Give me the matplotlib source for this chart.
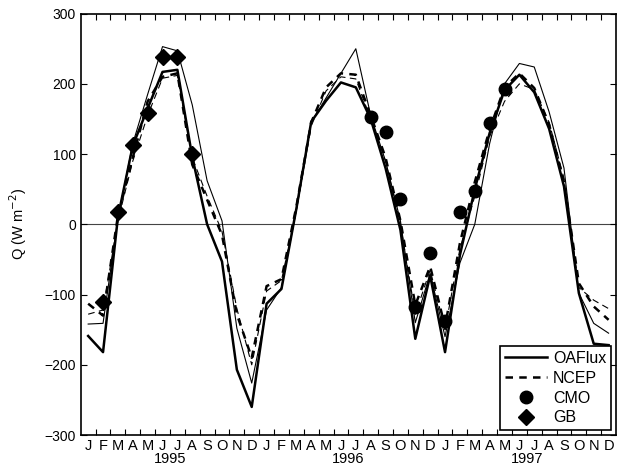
import matplotlib
matplotlib.use('Agg')
import matplotlib.pyplot as plt
import numpy as np

plt.rcParams['font.family'] = ['Liberation Sans', 'DejaVu Sans']

months = list('JFMAMJJASOND') * 3
years = ['1995', '1996', '1997']

# monthly net heat flux, Jan 1995 - Dec 1997
oaflux = [-159, -182, 10, 112, 165, 217, 220, 96, 0, -53, -207, -260,
          -113, -92, 22, 146, 176, 202, 195, 150, 80, -8, -163, -73,
          -182, -44, 50, 130, 191, 213, 188, 136, 54, -98, -170, -172]
ncep = [-113, -130, 12, 95, 175, 210, 215, 85, 35, -15, -128, -190,
        -88, -78, 25, 145, 195, 215, 213, 155, 95, 5, -115, -60,
        -146, -27, 60, 135, 195, 215, 194, 142, 60, -84, -117, -136]
thin_solid = [-142, -141, 8, 115, 185, 253, 247, 170, 62, 5, -148, -226,
              -122, -90, 20, 145, 180, 215, 250, 155, 90, 5, -140, -70,
              -160, -55, 0, 115, 200, 229, 224, 160, 80, -98, -141, -155]
thin_dash = [-128, -122, 5, 90, 155, 208, 212, 95, 40, -10, -120, -200,
             -95, -80, 20, 140, 190, 210, 207, 150, 90, 0, -128, -65,
             -150, -35, 40, 125, 175, 200, 192, 145, 65, -90, -108, -120]

cmo_idx = [19, 20, 21, 22, 23, 24, 25, 26, 27, 28]
cmo = [153, 132, 36, -118, -41, -137, 17, 48, 144, 193]
gb_idx = [1, 2, 3, 4, 5, 6, 7]
gb = [-110, 17, 113, 158, 238, 238, 100]

x = np.arange(36) + 0.5

fig = plt.figure(figsize=(6.21, 4.76), dpi=100)
ax = fig.add_axes([0.13, 0.0861, 0.862, 0.8853])

ax.axhline(0, color='#444444', lw=0.8, zorder=1)
ax.plot(x, thin_solid, color='black', lw=0.8, zorder=2)
ax.plot(x, thin_dash, color='black', lw=0.8, ls=(0, (6, 4)), zorder=2)
ax.plot(x, oaflux, color='black', lw=1.8, label='OAFlux', zorder=3)
ax.plot(x, ncep, color='black', lw=1.8, ls=(0, (3, 2.5)), label='NCEP', zorder=3)
ax.plot(x[cmo_idx], cmo, 'o', color='black', ms=9, label='CMO', zorder=4)
ax.plot(x[gb_idx], gb, 'D', color='black', ms=8.5, label='GB', zorder=4)

ax.set_xlim(0, 36)
ax.set_ylim(-300, 300)
ax.set_yticks(range(-300, 301, 100))
ax.set_xticks(range(1, 36))
ax.set_xticklabels([])
ax.set_xticks(x, minor=True)
ax.set_xticklabels(months, minor=True)
ax.tick_params(axis='x', which='minor', length=0, labelsize=10.5, pad=3)
ax.tick_params(axis='x', which='major', direction='in', length=4, top=True, width=0.8)
ax.tick_params(axis='y', direction='in', length=4, right=True, labelsize=10, width=0.8)
for i, yr in enumerate(years):
    ax.text(6 + 12 * i, -0.041, yr, transform=ax.get_xaxis_transform(),
            ha='center', va='top', fontsize=10.5)
for s in ax.spines.values():
    s.set_linewidth(1.2)

ax.set_ylabel('Q (W m$^{-2}$)', fontsize=10.5, labelpad=11)

leg = ax.legend(loc='lower right', fontsize=11.5, frameon=True, fancybox=False,
                edgecolor='black', handlelength=2.6, handletextpad=0.4,
                borderpad=0.3, labelspacing=0.3, borderaxespad=0.3)
leg.get_frame().set_linewidth(1.2)
leg.get_frame().set_alpha(1)

fig.savefig('out.png', dpi=100)
